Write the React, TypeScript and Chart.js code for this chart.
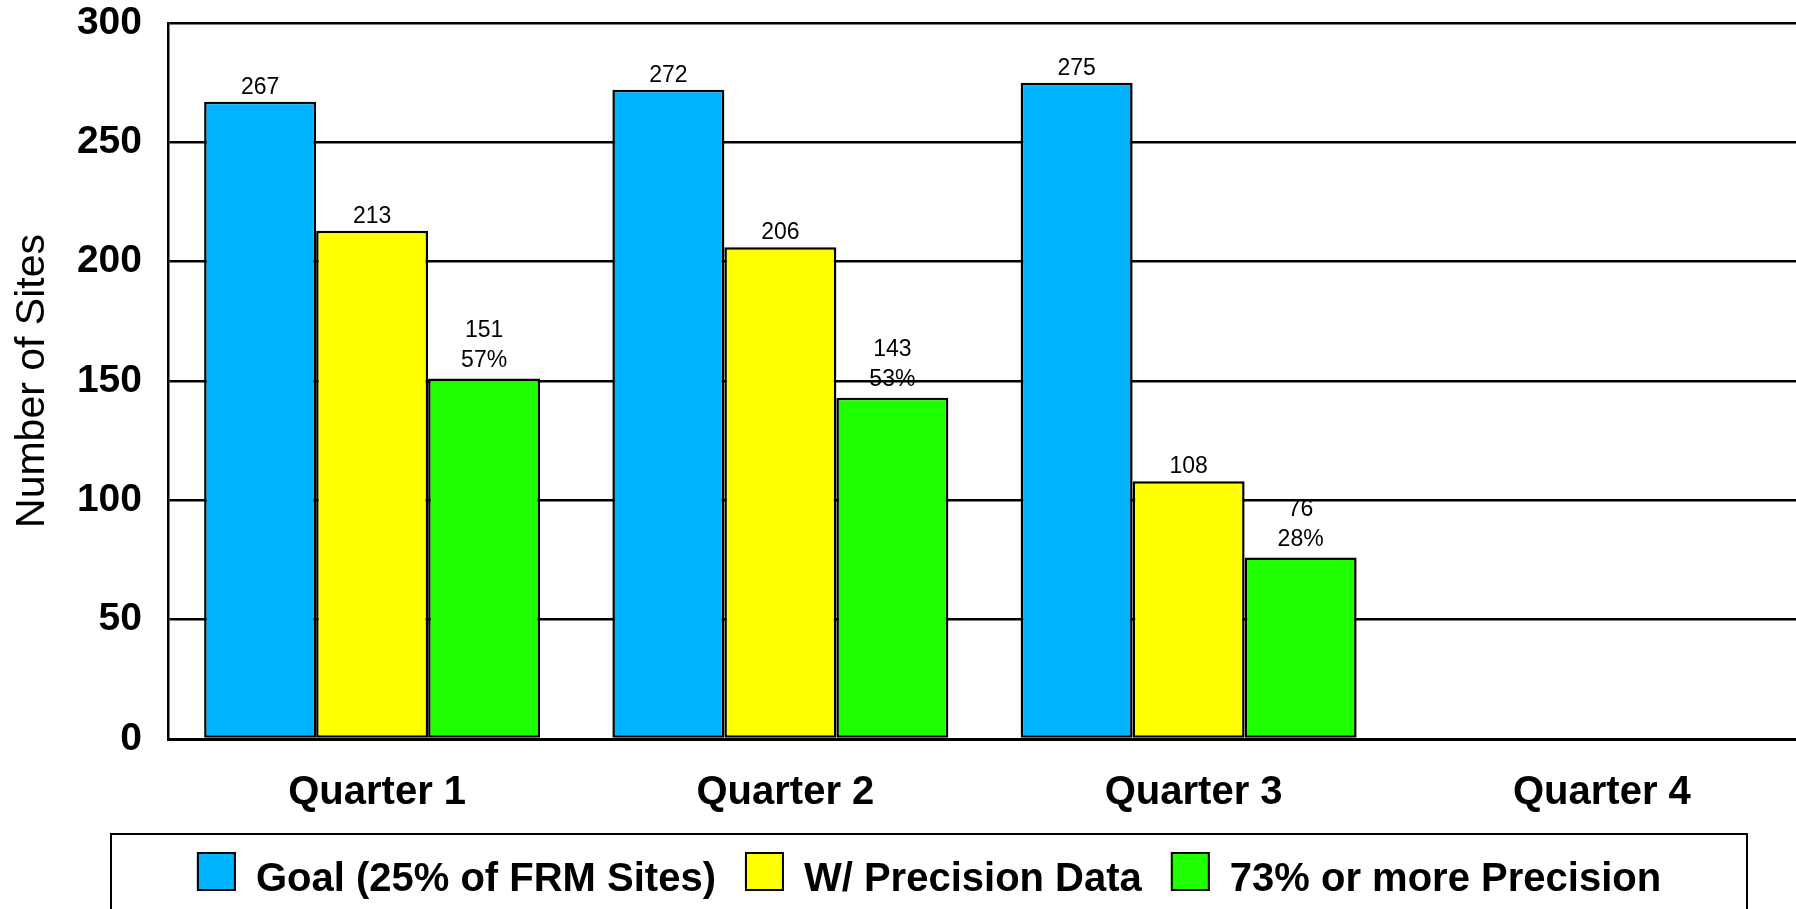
import React, { useEffect, useRef } from 'react';
import { Chart, registerables } from 'chart.js';

Chart.register(...registerables);

const FONT = '"Liberation Sans", Arial, Helvetica, sans-serif';

// Categories and series
const quarters = ['Quarter 1', 'Quarter 2', 'Quarter 3', 'Quarter 4'];
const goalSites = [267, 272, 275, null];
const precisionSites = [213, 206, 108, null];
const highPrecisionSites = [151, 143, 76, null];
const highPrecisionShare = ['57%', '53%', '28%', ''];
const yTicks = [0, 50, 100, 150, 200, 250, 300];

const seriesNames = ['Goal (25% of FRM Sites)', 'W/ Precision Data', '73% or more Precision'];
const seriesColors = ['#00B4FF', '#FFFF00', '#1EFF00'];

// Numbers above each bar; the third series also shows its share of the goal
const valueLabels = {
  id: 'valueLabels',
  afterDatasetsDraw(chart: any) {
    const ctx = chart.ctx;
    ctx.save();
    ctx.font = `23px ${FONT}`;
    ctx.fillStyle = '#000';
    ctx.textAlign = 'center';
    ctx.textBaseline = 'alphabetic';
    chart.data.datasets.forEach((ds: any, di: number) => {
      const meta = chart.getDatasetMeta(di);
      meta.data.forEach((bar: any, i: number) => {
        const v = ds.data[i];
        if (v == null) return;
        const share = di === 2 ? highPrecisionShare[i] : '';
        if (share) {
          ctx.fillText(String(v), bar.x, bar.y - 42);
          ctx.fillText(share, bar.x, bar.y - 12);
        } else {
          ctx.fillText(String(v), bar.x, bar.y - 8);
        }
      });
    });
    ctx.restore();
  },
};

// Framed legend row under the axis
const boxedLegend = {
  id: 'boxedLegend',
  afterDraw(chart: any) {
    const ctx = chart.ctx;
    ctx.save();
    ctx.lineWidth = 2;
    ctx.strokeStyle = '#000';
    ctx.strokeRect(111, 834, 1636, 140);
    ctx.font = `bold 40px ${FONT}`;
    const sw = 39;
    const gapIn = 20;
    const gapOut = 29;
    const widths = chart.data.datasets.map((d: any) => ctx.measureText(d.label).width);
    const total =
      widths.reduce((a: number, w: number) => a + sw + gapIn + w, 0) + gapOut * (widths.length - 1);
    let x = 929 - total / 2;
    const top = 852;
    chart.data.datasets.forEach((d: any, i: number) => {
      ctx.fillStyle = d.backgroundColor;
      ctx.fillRect(x, top, sw, sw);
      ctx.strokeRect(x + 1, top + 1, sw - 2, sw - 2);
      x += sw + gapIn;
      ctx.fillStyle = '#000';
      ctx.textAlign = 'left';
      ctx.textBaseline = 'alphabetic';
      ctx.fillText(d.label, x, 891);
      x += widths[i] + gapOut;
    });
    ctx.restore();
  },
};

export default function App() {
  const canvasRef = useRef<HTMLCanvasElement | null>(null);

  useEffect(() => {
    const canvas = canvasRef.current;
    if (!canvas) return;
    const series = [goalSites, precisionSites, highPrecisionSites];
    const chart = new Chart(canvas, {
      type: 'bar',
      data: {
        labels: quarters,
        datasets: series.map((values, i) => ({
          label: seriesNames[i],
          data: values,
          backgroundColor: seriesColors[i],
          borderColor: '#000',
          borderWidth: 2.5,
          borderSkipped: false,
          categoryPercentage: 0.823,
          barPercentage: 1,
        })),
      },
      options: {
        animation: false,
        responsive: true,
        maintainAspectRatio: false,
        devicePixelRatio: 1,
        layout: { padding: { top: 0, right: 0, bottom: 0, left: 0 } },
        plugins: {
          legend: { display: false },
          tooltip: { enabled: false },
          title: { display: false },
        },
        scales: {
          x: {
            offset: true,
            grid: { display: false, drawTicks: false },
            border: { display: true, color: '#000', width: 3 },
            ticks: {
              color: '#000',
              padding: 34,
              labelOffset: 5,
              font: { family: FONT, size: 40, weight: 'bold', lineHeight: 1 },
            },
            afterFit: (scale: any) => {
              scale.height = 170;
            },
          },
          y: {
            min: 0,
            max: 300,
            grid: { color: '#000', lineWidth: 2.5, drawTicks: false },
            border: { display: true, color: '#000', width: 2.5 },
            ticks: {
              color: '#000',
              padding: 26,
              font: { family: FONT, size: 39, weight: 'bold', lineHeight: 1 },
            },
            afterBuildTicks: (scale: any) => {
              scale.ticks = yTicks.map((v) => ({ value: v }));
            },
            afterFit: (scale: any) => {
              scale.width = 168;
              scale.paddingTop = 23;
              scale.paddingBottom = 0;
            },
            title: {
              display: true,
              text: 'Number of Sites',
              color: '#000',
              padding: { top: 12, bottom: 0 },
              font: { family: FONT, size: 41, weight: 'normal', lineHeight: 1 },
            },
          },
        },
      },
      plugins: [valueLabels, boxedLegend],
    });
    return () => chart.destroy();
  }, []);

  return (
    <div
      style={{
        position: 'fixed',
        left: 0,
        top: 0,
        width: 1801,
        height: 909,
        background: '#fff',
      }}
    >
      <canvas ref={canvasRef} />
    </div>
  );
}
